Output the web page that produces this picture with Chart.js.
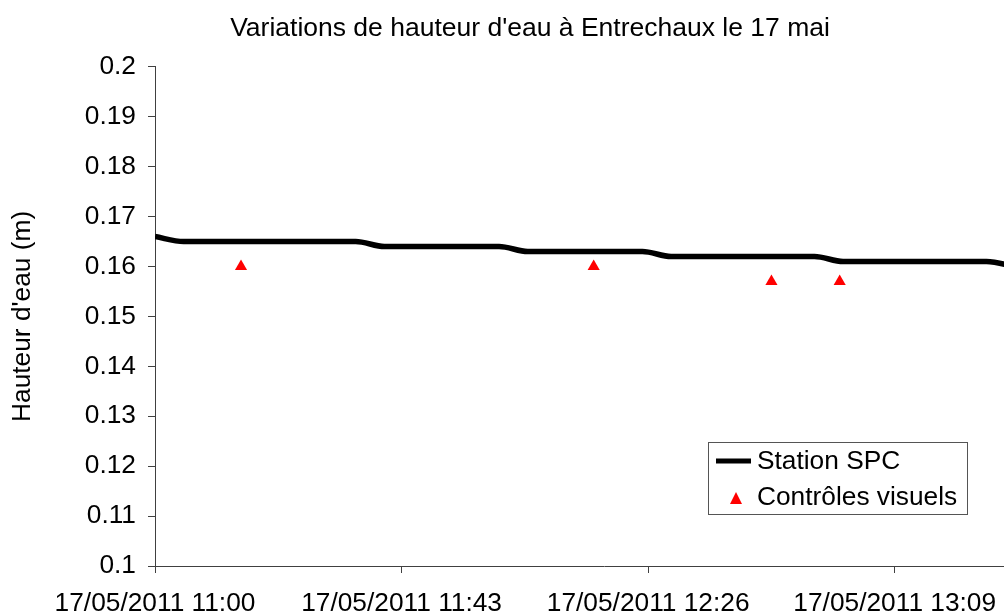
<!DOCTYPE html>
<html>
<head>
<meta charset="utf-8">
<script src="https://cdn.jsdelivr.net/npm/chart.js@4.4.1/dist/chart.umd.min.js"></script>
<style>
  html, body { margin: 0; padding: 0; background: #fff; overflow: hidden; }
  #wrap { width: 1060px; height: 616px; }
</style>
</head>
<body>
<div id="wrap"><canvas id="levelChart" width="1060" height="616"></canvas></div>
<script>
// minutes after 17/05/2011 11:00
const stationMinutes = [0, 5, 10, 15, 20, 25, 30, 35, 40, 45, 50, 55, 60, 65, 70, 75, 80, 85,
  90, 95, 100, 105, 110, 115, 120, 125, 130, 135, 140, 145, 150];
const stationLevels = [0.166, 0.165, 0.165, 0.165, 0.165, 0.165, 0.165, 0.165, 0.164, 0.164, 0.164,
  0.164, 0.164, 0.163, 0.163, 0.163, 0.163, 0.163, 0.162, 0.162, 0.162, 0.162, 0.162, 0.162,
  0.161, 0.161, 0.161, 0.161, 0.161, 0.161, 0.160];

const visualMinutes = [15, 76.5, 107.5, 119.4];
const visualLevels = [0.160, 0.160, 0.157, 0.157];

const xTickMinutes = [0, 43, 86, 129];
const xTickLabels = ['17/05/2011 11:00', '17/05/2011 11:43', '17/05/2011 12:26', '17/05/2011 13:09'];
const yTicks = [0.1, 0.11, 0.12, 0.13, 0.14, 0.15, 0.16, 0.17, 0.18, 0.19, 0.2];

const FONT = 'Liberation Sans, Arial, sans-serif';
const FS = 26.3;
const axisColor = '#404040';

// legend drawn inside the plot, like the spreadsheet version
const boxLegend = {
  id: 'boxLegend',
  afterDraw(chart) {
    const ctx = chart.ctx;
    const ds = chart.data.datasets;
    ctx.save();
    ctx.fillStyle = '#fff';
    ctx.fillRect(708.5, 442.5, 259, 72);
    ctx.strokeStyle = '#555';
    ctx.lineWidth = 1;
    ctx.strokeRect(708.5, 442.5, 259, 72);

    ctx.font = FS + 'px ' + FONT;
    ctx.fillStyle = '#000';
    ctx.textBaseline = 'middle';

    // line sample
    ctx.strokeStyle = ds[0].borderColor;
    ctx.lineWidth = 5;
    ctx.beginPath();
    ctx.moveTo(716, 461);
    ctx.lineTo(751, 461);
    ctx.stroke();
    ctx.fillText(ds[0].label, 757, 462);

    // triangle sample
    ctx.fillStyle = ds[1].backgroundColor;
    ctx.beginPath();
    ctx.moveTo(736, 492);
    ctx.lineTo(742, 504);
    ctx.lineTo(730, 504);
    ctx.closePath();
    ctx.fill();
    ctx.fillStyle = '#000';
    ctx.fillText(ds[1].label, 757, 498);
    ctx.restore();
  }
};

const ctx = document.getElementById('levelChart').getContext('2d');
new Chart(ctx, {
  type: 'line',
  data: {
    datasets: [{
      label: 'Station SPC',
      data: stationMinutes.map((m, i) => ({ x: m, y: stationLevels[i] })),
      borderColor: '#000',
      backgroundColor: '#000',
      borderWidth: 5.5,
      pointRadius: 0,
      cubicInterpolationMode: 'monotone',
      fill: false
    }, {
      label: 'Contrôles visuels',
      data: visualMinutes.map((m, i) => ({ x: m, y: visualLevels[i] })),
      showLine: false,
      pointStyle: 'triangle',
      pointRadius: 7,
      borderWidth: 0,
      borderColor: '#ff0000',
      backgroundColor: '#ff0000'
    }]
  },
  options: {
    responsive: false,
    animation: false,
    layout: { padding: { left: 0, right: 0, top: 0, bottom: 0 } },
    plugins: {
      legend: { display: false },
      tooltip: { enabled: false },
      title: {
        display: true,
        text: "Variations de hauteur d'eau à Entrechaux le 17 mai",
        color: '#000',
        font: { family: FONT, size: 26.5, weight: 'normal' },
        padding: { top: 13, bottom: 22 }
      }
    },
    scales: {
      x: {
        type: 'linear',
        min: 0,
        max: 156.6,
        afterBuildTicks: (scale) => { scale.ticks = xTickMinutes.map(v => ({ value: v })); },
        afterFit: (scale) => { scale.height = 50; },
        ticks: {
          autoSkip: false,
          maxRotation: 0,
          padding: 15,
          color: '#000',
          font: { family: FONT, size: FS },
          callback: (v) => xTickLabels[xTickMinutes.indexOf(v)]
        },
        grid: { drawOnChartArea: false, drawTicks: true, tickLength: 7, color: axisColor },
        border: { color: axisColor, width: 1 }
      },
      y: {
        min: 0.1,
        max: 0.2,
        afterBuildTicks: (scale) => { scale.ticks = yTicks.map(v => ({ value: v })); },
        afterFit: (scale) => { scale.width = 155; },
        ticks: {
          padding: 12,
          color: '#000',
          font: { family: FONT, size: FS },
          callback: (v) => String(Math.round(v * 100) / 100)
        },
        title: {
          display: true,
          text: "Hauteur d'eau (m)",
          color: '#000',
          font: { family: FONT, size: FS },
          padding: { top: 7, bottom: 0 }
        },
        grid: { drawOnChartArea: false, drawTicks: true, tickLength: 7, color: axisColor },
        border: { color: axisColor, width: 1 }
      }
    }
  },
  plugins: [boxLegend]
});
</script>
</body>
</html>
